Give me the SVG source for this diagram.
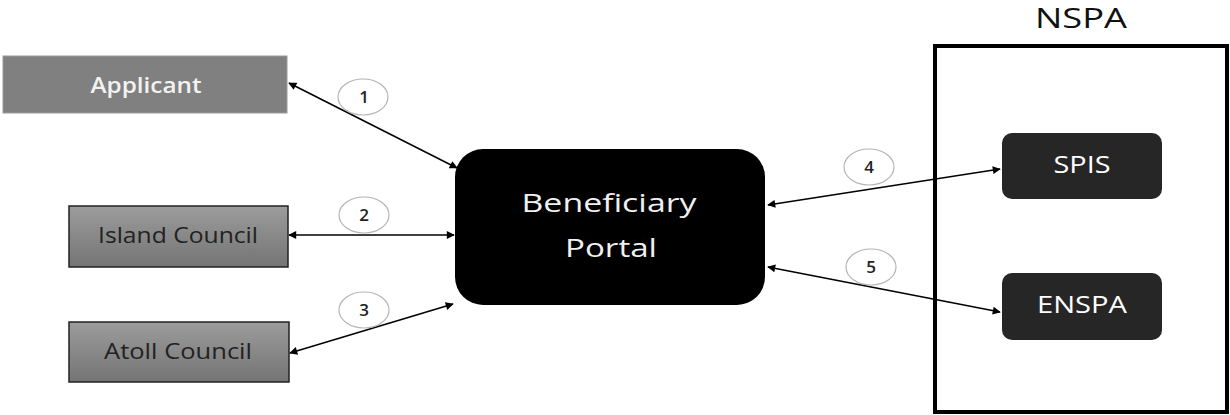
<svg xmlns="http://www.w3.org/2000/svg" width="1230" height="415" viewBox="0 0 1230 415">
<style>
text{font-family:"Open Sans","Liberation Sans",sans-serif;text-anchor:middle}
.conn{stroke:#000;stroke-width:1.5;fill:none;marker-start:url(#ah);marker-end:url(#ah)}
.num ellipse{fill:#fff;stroke:#b5b5b5;stroke-width:1.2}
.num text{font-size:17px;font-weight:600;fill:#222}
.council rect{fill:url(#g);stroke:#222;stroke-width:1.5}
.council text{font-size:22px;fill:#222}
.sys rect{fill:#262626}
.sys text{font-size:24px;fill:#fff}
</style>
<defs>
<marker id="ah" viewBox="0 0 10 10" refX="9" refY="5" markerWidth="9" markerHeight="8" markerUnits="userSpaceOnUse" orient="auto-start-reverse">
<path d="M0,0L10,5L0,10z" fill="#000"/>
</marker>
<linearGradient id="g" x1="0" y1="0" x2="0" y2="1">
<stop offset="0" stop-color="#9c9c9c"/>
<stop offset="1" stop-color="#747474"/>
</linearGradient>
</defs>
<g id="nspa">
<rect x="935" y="46" width="292" height="366" fill="none" stroke="#000" stroke-width="4"/>
<text x="1081" y="28" font-size="28" fill="#111" textLength="92" lengthAdjust="spacingAndGlyphs">NSPA</text>
</g>
<g id="applicant">
<rect x="3" y="56" width="284" height="57" fill="#808080" stroke="#9a9a9a" stroke-width="1"/>
<text x="146" y="93" font-size="21" font-weight="600" fill="#f2f2f2" textLength="111" lengthAdjust="spacingAndGlyphs">Applicant</text>
</g>
<g id="island-council" class="council">
<rect x="69" y="206" width="219" height="61"/>
<text x="178" y="243" textLength="160" lengthAdjust="spacingAndGlyphs">Island Council</text>
</g>
<g id="atoll-council" class="council">
<rect x="69" y="322" width="220" height="60"/>
<text x="178" y="359" textLength="148" lengthAdjust="spacingAndGlyphs">Atoll Council</text>
</g>
<g id="portal">
<rect x="455" y="149" width="310" height="156" rx="28" fill="#000"/>
<text x="609" y="212" font-size="25" fill="#f0f0f0" textLength="175" lengthAdjust="spacingAndGlyphs">Beneficiary</text>
<text x="611" y="257" font-size="25" fill="#f0f0f0" textLength="92" lengthAdjust="spacingAndGlyphs">Portal</text>
</g>
<g id="spis" class="sys">
<rect x="1002" y="133" width="160" height="66" rx="10"/>
<text x="1082" y="173" textLength="57" lengthAdjust="spacingAndGlyphs">SPIS</text>
</g>
<g id="enspa" class="sys">
<rect x="1002" y="273" width="160" height="67" rx="10"/>
<text x="1082" y="313" textLength="90" lengthAdjust="spacingAndGlyphs">ENSPA</text>
</g>
<g id="connectors">
<line class="conn" x1="289" y1="83" x2="457" y2="168"/>
<line class="conn" x1="289" y1="235" x2="454" y2="235"/>
<line class="conn" x1="290" y1="353" x2="453" y2="304"/>
<line class="conn" x1="768" y1="205" x2="1000" y2="169"/>
<line class="conn" x1="768" y1="267" x2="1000" y2="312"/>
</g>
<g id="labels">
<g class="num"><ellipse cx="363" cy="97" rx="25" ry="18"/><text x="364" y="103">1</text></g>
<g class="num"><ellipse cx="364" cy="215" rx="25" ry="18"/><text x="364" y="221">2</text></g>
<g class="num"><ellipse cx="364" cy="310" rx="25" ry="18"/><text x="364" y="316">3</text></g>
<g class="num"><ellipse cx="869" cy="167" rx="25" ry="18"/><text x="869" y="173">4</text></g>
<g class="num"><ellipse cx="871" cy="267" rx="25" ry="18"/><text x="871" y="273">5</text></g>
</g>
</svg>
